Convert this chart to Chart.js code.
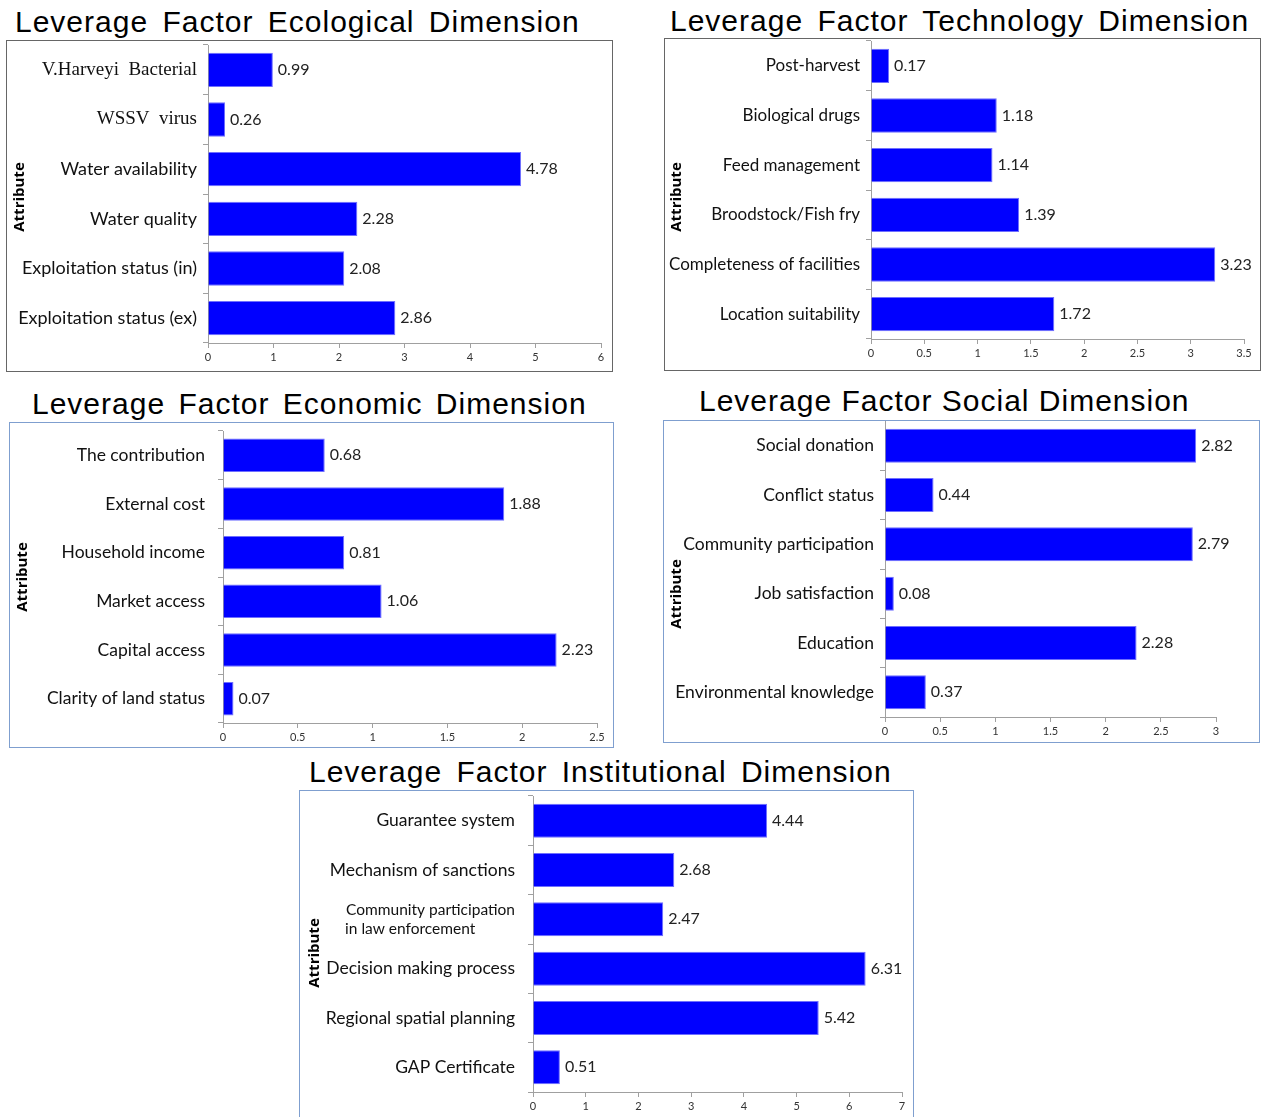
<!DOCTYPE html>
<html>
<head>
<meta charset="utf-8">
<script src="https://cdn.jsdelivr.net/npm/chart.js@4/dist/chart.umd.min.js"></script>
<style>
  body { margin: 0; background: #fff; }
  #page { position: relative; width: 1261px; height: 1117px; overflow: hidden; background: #fff; }
  .title { position: absolute; font-family: 'Liberation Sans', Arial, sans-serif; font-size: 30px;
           line-height: 30px; letter-spacing: 1px; word-spacing: 5px; color: #000; white-space: nowrap; }
  .box { position: absolute; box-sizing: border-box; border: 1px solid #666; }
  .box.blue { border-color: #7f9fcf; }
  canvas { position: absolute; left: 0; top: 0; }
</style>
</head>
<body>
<div id="page">
  <div class="title" style="left:15px;top:7px">Leverage Factor Ecological Dimension</div>
  <div class="box" style="left:6px;top:40px;width:607px;height:332px"><canvas id="eco"></canvas></div>

  <div class="title" style="left:670px;top:6px">Leverage Factor Technology Dimension</div>
  <div class="box" style="left:664px;top:38px;width:597px;height:333px"><canvas id="tech"></canvas></div>

  <div class="title" style="left:32px;top:389px;word-spacing:4px">Leverage Factor Economic Dimension</div>
  <div class="box blue" style="left:9px;top:422px;width:605px;height:326px"><canvas id="econ"></canvas></div>

  <div class="title" style="left:699px;top:386px;word-spacing:0">Leverage Factor Social Dimension</div>
  <div class="box blue" style="left:663px;top:420px;width:597px;height:323px"><canvas id="soc"></canvas></div>

  <div class="title" style="left:309px;top:757px">Leverage Factor Institutional Dimension</div>
  <div class="box blue" style="left:299px;top:790px;width:615px;height:330px"><canvas id="inst"></canvas></div>
</div>
<script>
// data
var ecoLabels = ['V.Harveyi  Bacterial', 'WSSV  virus', 'Water availability', 'Water quality',
                 'Exploitation status (in)', 'Exploitation status (ex)'];
var ecoValues = [0.99, 0.26, 4.78, 2.28, 2.08, 2.86];
var ecoMax = 6, ecoStep = 1;

var techLabels = ['Post-harvest', 'Biological drugs', 'Feed management', 'Broodstock/Fish fry',
                  'Completeness of facilities', 'Location suitability'];
var techValues = [0.17, 1.18, 1.14, 1.39, 3.23, 1.72];
var techMax = 3.5, techStep = 0.5;

var econLabels = ['The contribution', 'External cost', 'Household income', 'Market access',
                  'Capital access', 'Clarity of land status'];
var econValues = [0.68, 1.88, 0.81, 1.06, 2.23, 0.07];
var econMax = 2.5, econStep = 0.5;

var socLabels = ['Social donation', 'Conflict status', 'Community participation', 'Job satisfaction',
                 'Education', 'Environmental knowledge'];
var socValues = [2.82, 0.44, 2.79, 0.08, 2.28, 0.37];
var socMax = 3, socStep = 0.5;

var instLabels = ['Guarantee system', 'Mechanism of sanctions',
                  ['Community participation', 'in law enforcement'],
                  'Decision making process', 'Regional spatial planning', 'GAP Certificate'];
var instValues = [4.44, 2.68, 2.47, 6.31, 5.42, 0.51];
var instMax = 7, instStep = 1;

var valueLabels = {
    id: 'valueLabels',
    afterDatasetsDraw: function (chart) {
        var ctx = chart.ctx;
        var meta = chart.getDatasetMeta(0);
        var data = chart.data.datasets[0].data;
        ctx.save();
        ctx.font = '16px Lato';
        ctx.fillStyle = '#222';
        ctx.textAlign = 'left';
        ctx.textBaseline = 'middle';
        meta.data.forEach(function (bar, i) {
            ctx.fillText(data[i].toFixed(2), bar.x + 5, bar.y);
        });
        ctx.restore();
    }
};

var sideTitle = {
    id: 'sideTitle',
    afterDraw: function (chart, args, opts) {
        var ctx = chart.ctx;
        ctx.save();
        ctx.translate(opts.x, opts.y);
        ctx.rotate(-Math.PI / 2);
        ctx.font = 'bold 15px "Open Sans"';
        ctx.fillStyle = '#000';
        ctx.textAlign = 'center';
        ctx.textBaseline = 'middle';
        ctx.fillText('Attribute', 0, 0);
        ctx.restore();
    }
};

// two-line labels are left aligned in the original: pad short lines with nbsp
var measureCtx = document.createElement('canvas').getContext('2d');
function padLines(lines, size) {
    measureCtx.font = size + 'px Lato';
    var widths = lines.map(function (l) { return measureCtx.measureText(l).width; });
    var w = Math.max.apply(null, widths);
    var sp = measureCtx.measureText('\u00a0').width;
    return lines.map(function (l, i) {
        return l + '\u00a0'.repeat(Math.round((w - widths[i]) / sp));
    });
}

// box = outer box on page, plot = plot area on page
function makeChart(id, labels, values, max, step, box, plot, labelPad, attr, fontFor) {
    var canvas = document.getElementById(id);
    var cw = box.w - 2, ch = box.h - 2;
    var ox = box.x + 1, oy = box.y + 1;
    canvas.width = cw;
    canvas.height = ch;
    canvas.style.width = cw + 'px';
    canvas.style.height = ch + 'px';

    return new Chart(canvas, {
        type: 'bar',
        data: {
            labels: labels,
            datasets: [{
                data: values,
                backgroundColor: '#0000ff',
                borderColor: '#6f6fff',
                borderWidth: 1,
                barPercentage: 0.69,
                categoryPercentage: 1
            }]
        },
        options: {
            indexAxis: 'y',
            responsive: false,
            animation: false,
            layout: {
                padding: { left: 0, top: plot.top - oy, right: cw - (plot.right - ox), bottom: 0 }
            },
            scales: {
                y: {
                    grid: { drawOnChartArea: false, drawTicks: true, tickLength: 5, color: '#a0a0a0', offset: true },
                    border: { color: '#a0a0a0' },
                    ticks: {
                        crossAlign: 'near',
                        padding: labelPad,
                        color: '#111',
                        font: function (c) { return fontFor(c.index); },
                        callback: function (value) {
                            var lab = this.getLabelForValue(value);
                            return Array.isArray(lab) ? padLines(lab, fontFor(value).size) : lab;
                        }
                    },
                    afterFit: function (s) {
                        s.width = plot.left - ox;
                        s.paddingTop = 0;
                        s.paddingBottom = 0;
                    }
                },
                x: {
                    min: 0,
                    max: max,
                    grid: { drawOnChartArea: false, drawTicks: true, tickLength: 5, color: '#a0a0a0' },
                    border: { color: '#a0a0a0' },
                    ticks: {
                        stepSize: step, padding: 3, color: '#333', font: { family: 'Lato', size: 11 },
                        callback: function (v) { return String(v); }
                    },
                    afterFit: function (s) {
                        s.height = ch - (plot.bottom - oy);
                        s.paddingLeft = 0;
                        s.paddingRight = 0;
                    }
                }
            },
            plugins: {
                legend: { display: false },
                tooltip: { enabled: false },
                sideTitle: { x: attr.x - ox, y: attr.y - oy }
            }
        },
        plugins: [valueLabels, sideTitle]
    });
}

function lato(size) {
    return function () { return { family: 'Lato', size: size }; };
}

makeChart('eco', ecoLabels, ecoValues, ecoMax, ecoStep,
    { x: 6, y: 40, w: 607, h: 332 }, { left: 208, right: 601, top: 45, bottom: 343 }, 6,
    { x: 20, y: 197 },
    function (i) {
        return i < 2 ? { family: 'Liberation Serif', size: 19 } : { family: 'Lato', size: 18 };
    });

makeChart('tech', techLabels, techValues, techMax, techStep,
    { x: 664, y: 38, w: 597, h: 333 }, { left: 871, right: 1244, top: 41, bottom: 339 }, 6,
    { x: 677, y: 197 }, lato(17));

makeChart('econ', econLabels, econValues, econMax, econStep,
    { x: 9, y: 422, w: 605, h: 326 }, { left: 223, right: 597, top: 431, bottom: 723 }, 13,
    { x: 23, y: 577 }, lato(17.5));

makeChart('soc', socLabels, socValues, socMax, socStep,
    { x: 663, y: 420, w: 597, h: 323 }, { left: 885, right: 1216, top: 421, bottom: 717 }, 6,
    { x: 677, y: 594 }, lato(17.5));

makeChart('inst', instLabels, instValues, instMax, instStep,
    { x: 299, y: 790, w: 615, h: 330 }, { left: 533, right: 902, top: 796, bottom: 1092 }, 13,
    { x: 315, y: 953 },
    function (i) {
        return i === 2 ? { family: 'Lato', size: 15.5 } : { family: 'Lato', size: 17.5 };
    });
</script>
</body>
</html>
